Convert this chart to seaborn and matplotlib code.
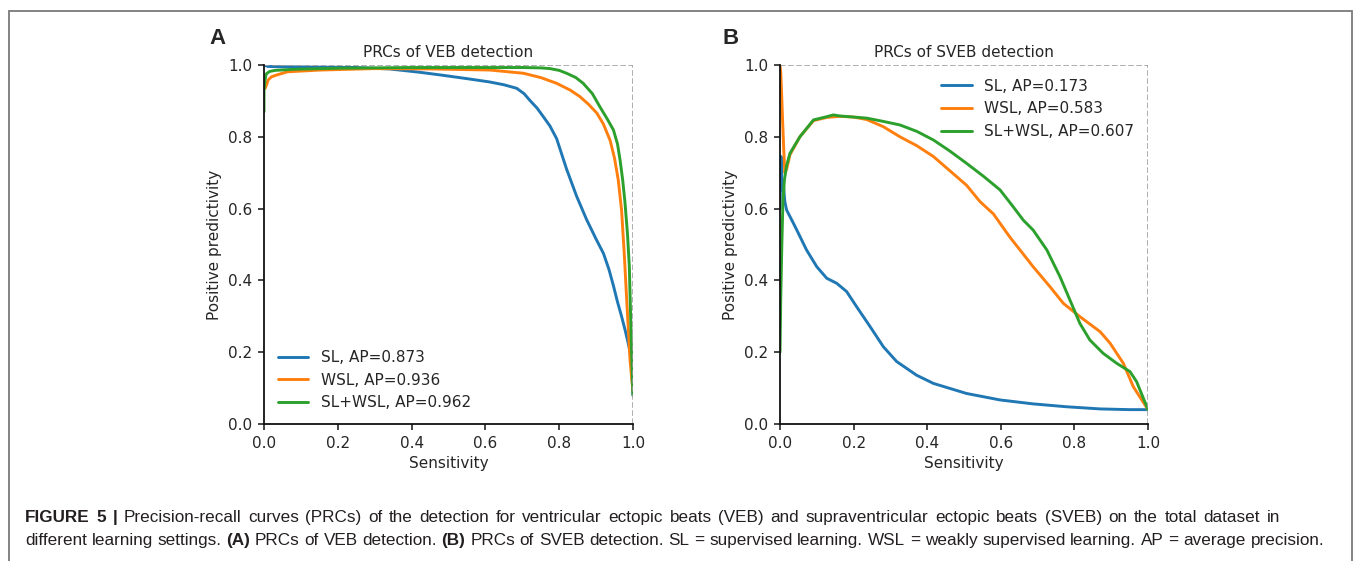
import matplotlib
matplotlib.use("Agg")
import matplotlib.pyplot as plt
import matplotlib.patches as patches
import seaborn as sns

# ============================================================
# Data
# ============================================================

veb_sl_sens = [0.0, 0.01, 0.05, 0.15, 0.25, 0.34, 0.42, 0.48, 0.55, 0.61,
               0.65, 0.685, 0.705, 0.72, 0.74, 0.757, 0.775, 0.793, 0.82, 0.847,
               0.874, 0.90, 0.92, 0.935, 0.947, 0.958, 0.969, 0.979, 0.987, 0.994, 1.0]
veb_sl_ppv = [1.0, 0.996, 0.995, 0.994, 0.993, 0.989, 0.98, 0.972, 0.962, 0.953,
              0.945, 0.935, 0.92, 0.902, 0.88, 0.856, 0.83, 0.795, 0.71, 0.635,
              0.57, 0.515, 0.475, 0.43, 0.385, 0.34, 0.30, 0.26, 0.225, 0.19, 0.08]

veb_wsl_sens = [0.0, 0.003, 0.007, 0.011, 0.02, 0.034, 0.063, 0.153, 0.3, 0.45,
                0.612, 0.703, 0.75, 0.793, 0.83, 0.856, 0.88, 0.902, 0.92, 0.938,
                0.95, 0.96, 0.969, 0.976, 0.983, 0.992, 1.0]
veb_wsl_ppv = [0.94, 0.935, 0.945, 0.958, 0.967, 0.972, 0.981, 0.986, 0.99, 0.989,
               0.986, 0.977, 0.965, 0.949, 0.93, 0.912, 0.89, 0.866, 0.835, 0.79,
               0.74, 0.68, 0.596, 0.48, 0.345, 0.178, 0.09]

veb_both_sens = [0.0, 0.0, 0.003, 0.006, 0.015, 0.03, 0.08, 0.2, 0.4, 0.6,
                 0.7, 0.75, 0.775, 0.8, 0.82, 0.845, 0.865, 0.89, 0.91, 0.93,
                 0.947, 0.958, 0.965, 0.972, 0.978, 0.985, 0.99, 0.996, 1.0]
veb_both_ppv = [0.87, 0.93, 0.96, 0.975, 0.982, 0.985, 0.988, 0.991, 0.993, 0.993,
                0.993, 0.992, 0.99, 0.985, 0.977, 0.965, 0.949, 0.92, 0.884, 0.85,
                0.819, 0.78, 0.735, 0.68, 0.62, 0.53, 0.44, 0.206, 0.08]

sveb_sl_sens = [0.0, 0.003, 0.006, 0.009, 0.013, 0.018, 0.041, 0.072, 0.1, 0.127,
                0.154, 0.181, 0.208, 0.245, 0.281, 0.317, 0.371, 0.417, 0.507, 0.598,
                0.688, 0.779, 0.87, 0.95, 1.0]
sveb_sl_ppv = [0.6, 0.745, 0.65, 0.67, 0.62, 0.596, 0.55, 0.485, 0.438, 0.406,
               0.392, 0.369, 0.327, 0.271, 0.215, 0.174, 0.136, 0.113, 0.085, 0.067,
               0.056, 0.048, 0.042, 0.04, 0.04]

sveb_wsl_sens = [0.0, 0.002, 0.004, 0.007, 0.010, 0.013, 0.018, 0.027, 0.054, 0.091,
                 0.127, 0.163, 0.2, 0.236, 0.281, 0.326, 0.372, 0.417, 0.462, 0.507,
                 0.543, 0.58, 0.598, 0.625, 0.652, 0.688, 0.734, 0.77, 0.815, 0.87,
                 0.897, 0.933, 0.96, 1.0]
sveb_wsl_ppv = [1.0, 0.98, 0.93, 0.847, 0.77, 0.70, 0.71, 0.75, 0.80, 0.845,
                0.854, 0.857, 0.855, 0.848, 0.828, 0.80, 0.775, 0.745, 0.705, 0.665,
                0.62, 0.585, 0.559, 0.52, 0.485, 0.438, 0.382, 0.336, 0.299, 0.257,
                0.225, 0.169, 0.104, 0.04]

sveb_both_sens = [0.0, 0.002, 0.005, 0.008, 0.012, 0.018, 0.027, 0.054, 0.091, 0.127,
                  0.145, 0.163, 0.2, 0.236, 0.28, 0.326, 0.372, 0.417, 0.462, 0.507,
                  0.553, 0.598, 0.63, 0.661, 0.688, 0.725, 0.761, 0.788, 0.815, 0.842,
                  0.878, 0.915, 0.951, 0.969, 1.0]
sveb_both_ppv = [0.2, 0.35, 0.5, 0.62, 0.68, 0.72, 0.754, 0.80, 0.847, 0.856,
                 0.861, 0.858, 0.855, 0.852, 0.843, 0.833, 0.815, 0.791, 0.76, 0.726,
                 0.69, 0.652, 0.61, 0.568, 0.54, 0.485, 0.41, 0.345, 0.28, 0.234,
                 0.197, 0.169, 0.146, 0.118, 0.04]

veb_labels = ["SL, AP=0.873", "WSL, AP=0.936", "SL+WSL, AP=0.962"]
sveb_labels = ["SL, AP=0.173", "WSL, AP=0.583", "SL+WSL, AP=0.607"]
colors = ["#1f77b4", "#ff7f0e", "#2ca02c"]

caption_line1 = [
    ("FIGURE 5 |", "bold"),
    ("Precision-recall curves (PRCs) of the detection for ventricular ectopic beats (VEB) "
     "and supraventricular ectopic beats (SVEB) on the total dataset in", "normal"),
]
caption_line2 = [
    ("different learning settings.", "normal"),
    ("(A)", "bold"),
    ("PRCs of VEB detection.", "normal"),
    ("(B)", "bold"),
    ("PRCs of SVEB detection. SL = supervised learning. WSL = weakly supervised "
     "learning. AP = average precision.", "normal"),
]

# ============================================================
# Figure
# ============================================================

sns.set_style("ticks")
plt.rcParams["font.family"] = ["DejaVu Sans"]

W, H = 1355, 561
fig = plt.figure(figsize=(W / 100, H / 100), dpi=100)

# outer frame of the figure panel
fig.patches.append(patches.Rectangle(
    (9 / W, -0.05), (1352 - 9) / W, 1 - 11 / H + 0.05,
    transform=fig.transFigure, fill=False, edgecolor="#7a7a7a", linewidth=1.3
))


def draw_prc(ax, curves, labels, title, legend_loc):
    for (sens, ppv), label, color in zip(curves, labels, colors):
        sns.lineplot(x=sens, y=ppv, ax=ax, label=label, color=color,
                     linewidth=2.1, sort=False, estimator=None)
    ax.plot([0, 1], [1, 1], linestyle="--", color="#999999", linewidth=1.1)
    ax.plot([1, 1], [0, 1], linestyle="--", color="#999999", linewidth=1.1)
    ax.set_xlim(0, 1)
    ax.set_ylim(0, 1)
    ax.set_xticks([0, 0.2, 0.4, 0.6, 0.8, 1.0])
    ax.set_yticks([0, 0.2, 0.4, 0.6, 0.8, 1.0])
    ax.tick_params(labelsize=11, width=1.2, length=4, pad=4.5)
    ax.set_xlabel("Sensitivity", fontsize=11)
    ax.set_ylabel("Positive predictivity", fontsize=11)
    ax.set_title(title, fontsize=11)
    sns.despine(ax=ax)
    for side in ["left", "bottom"]:
        ax.spines[side].set_linewidth(1.3)
        ax.spines[side].set_color("#111111")
    ax.legend(loc=legend_loc, frameon=False, fontsize=11)


ax_a = fig.add_axes([264 / W, 1 - 424 / H, 369 / W, 359 / H])
draw_prc(ax_a,
         [(veb_sl_sens, veb_sl_ppv), (veb_wsl_sens, veb_wsl_ppv), (veb_both_sens, veb_both_ppv)],
         veb_labels, "PRCs of VEB detection", "lower left")

ax_b = fig.add_axes([780 / W, 1 - 424 / H, 368 / W, 359 / H])
draw_prc(ax_b,
         [(sveb_sl_sens, sveb_sl_ppv), (sveb_wsl_sens, sveb_wsl_ppv), (sveb_both_sens, sveb_both_ppv)],
         sveb_labels, "PRCs of SVEB detection", "upper right")

# panel letters
fig.text(209 / W, 1 - 39 / H, "A", fontsize=16, fontweight="bold",
         family="Liberation Sans", va="center", ha="left")
fig.text(722 / W, 1 - 39 / H, "B", fontsize=16, fontweight="bold",
         family="Liberation Sans", va="center", ha="left")

# ============================================================
# Caption (word by word, bold / normal, justified first line)
# ============================================================

renderer = fig.canvas.get_renderer()
cap_font = "Liberation Sans"
cap_color = "#231f20"


def split_words(runs):
    return [(word, weight) for txt, weight in runs for word in txt.split(" ")]


def word_widths(words, size):
    widths = []
    for txt, weight in words:
        t = fig.text(0, 0, txt, fontsize=size, fontweight=weight, family=cap_font)
        widths.append(t.get_window_extent(renderer).width)
        t.remove()
    a = fig.text(0, 0, "xx", fontsize=size, family=cap_font)
    b = fig.text(0, 0, "x x", fontsize=size, family=cap_font)
    gap = b.get_window_extent(renderer).width - a.get_window_extent(renderer).width
    a.remove()
    b.remove()
    return widths, gap


def draw_words(words, x_px, y_px, size, target=None):
    widths, gap = word_widths(words, size)
    if target is not None:
        gap = (target - sum(widths)) / (len(words) - 1)
    x = x_px
    for (txt, weight), w in zip(words, widths):
        fig.text(x / W, 1 - y_px / H, txt, fontsize=size, fontweight=weight,
                 family=cap_font, color=cap_color, va="baseline", ha="left")
        x += w + gap


words1 = split_words(caption_line1)
words2 = split_words(caption_line2)

# fit the second line to the width seen in the reference
w2, g2 = word_widths(words2, 12)
cap_size = 12 * (1322 - 25) / (sum(w2) + g2 * (len(w2) - 1))

draw_words(words1, 25, 522, cap_size, target=1280 - 25)
draw_words(words2, 25, 545, cap_size)

fig.savefig("out.png", dpi=100)
